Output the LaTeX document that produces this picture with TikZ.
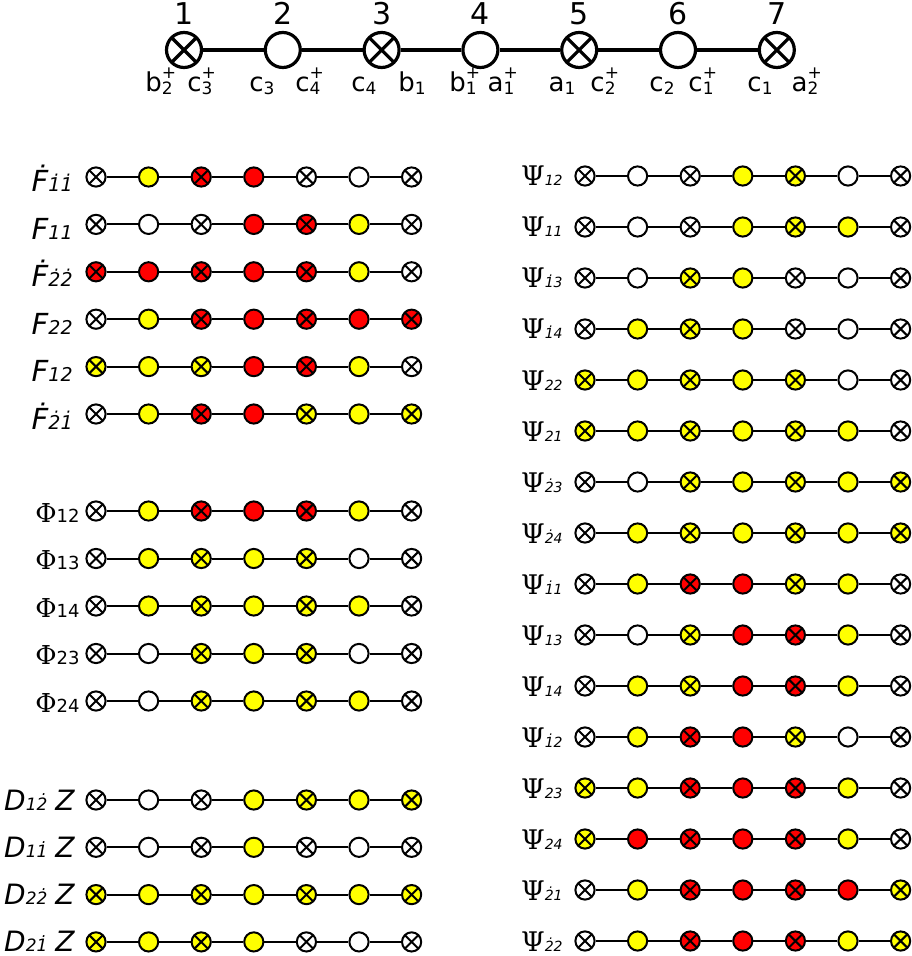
\documentclass[tikz,border=0pt]{standalone}
\usepackage{fontspec}
\setmainfont{DejaVu Sans}
\newfontfamily\grk{DejaVu Serif}
\usetikzlibrary{positioning}
\definecolor{qw}{RGB}{255,255,255}
\definecolor{qy}{RGB}{255,255,0}
\definecolor{qr}{RGB}{255,0,0}

% small lower / upper indices
\newcommand\op[3]{#1\rlap{\raisebox{6.5pt}{\fontsize{8.5}{9}\selectfont #3}}\raisebox{-1.5pt}{\fontsize{8.5}{9}\selectfont #2}}
\newcommand\fsub[1]{{\fontsize{9.5}{10}\selectfont\itshape #1}}
\newcommand\psisub[1]{{\fontsize{7}{8}\selectfont\itshape #1}}
\newcommand\phisub[1]{{\fontsize{9}{9}\selectfont #1}}
\newcommand\dsub[1]{{\fontsize{8.5}{9}\selectfont #1}}
\newcommand\bigpsi{{\grk\fontsize{13.5}{15}\selectfont Ψ}}
\newcommand\bigphi{{\grk\fontsize{13}{15}\selectfont Φ}}

\tikzset{
  xed/.style={path picture={\draw[line width=#1]
      (path picture bounding box.south west) -- (path picture bounding box.north east)
      (path picture bounding box.north west) -- (path picture bounding box.south east);}},
  site/.style={circle, draw, line width=1pt, minimum size=9.6pt, inner sep=0pt},
  k1/.style={xed=1pt},
  k0/.style={},
  bond/.style={line width=1pt},
  bigsite/.style={circle, draw, line width=1.6pt, minimum size=17.5pt, inner sep=0pt, fill=white},
  flab/.style={anchor=base east, inner sep=0pt, font=\fontsize{14.5}{16}\selectfont\itshape},
  psilab/.style={anchor=base east, inner sep=0pt, font=\fontsize{10}{12}\selectfont},
  philab/.style={anchor=base east, inner sep=0pt, font=\fontsize{10}{12}\selectfont},
  dlab/.style={anchor=base east, inner sep=0pt, font=\fontsize{14}{16}\selectfont\itshape},
}

\begin{document}
\begin{tikzpicture}[x=0.5pt, y=-0.5pt]
  \useasboundingbox (0,0) rectangle (911,956);

  % the chain with its numbers and operators
  \foreach \lft/\rgt/\xa/\xb [count=\i] in {
      {\op{b}{2}{+}}/{\op{c}{3}{+}}/159/200,
      {\op{c}{3}{}}/{\op{c}{4}{+}}/262/308,
      {\op{c}{4}{}}/{\op{b}{1}{}}/364/412,
      {\op{b}{1}{+}}/{\op{a}{1}{+}}/463/501,
      {\op{a}{1}{}}/{\op{c}{2}{+}}/562/603,
      {\op{c}{2}{}}/{\op{c}{1}{+}}/662/701,
      {\op{c}{1}{}}/{\op{a}{2}{+}}/760/805}{
    \pgfmathsetmacro\m{int(mod(\i,2))}
    \ifnum\m=1
      \node[bigsite, xed=1.6pt] (t\i) at ({184+98.8*(\i-1)},50) {};
    \else
      \node[bigsite] (t\i) at ({184+98.8*(\i-1)},50) {};
    \fi
    \node[above=3pt of t\i, inner sep=0pt, font=\fontsize{15}{15}\selectfont] (n\i) {\i};
    \node[anchor=base, inner sep=0pt, font=\fontsize{13}{13}\selectfont] (la\i) at (\xa,92) {\lft};
    \node[anchor=base, inner sep=0pt, font=\fontsize{13}{13}\selectfont] (lb\i) at (\xb,92) {\rgt};
  }
  \foreach \i [remember=\i as \j (initially 1)] in {2,...,7}
    \draw[line width=1.6pt] (t\j) -- (t\i);

  % F block
  \foreach \lab/\cols [count=\r] in {
      {\.{F}\fsub{\.{1}\.{1}}}/{w,y,r,r,w,w,w},
      {F\fsub{11}}/{w,w,w,r,r,y,w},
      {\.{F}\fsub{\.{2}\.{2}}}/{r,r,r,r,r,y,w},
      {F\fsub{22}}/{w,y,r,r,r,r,r},
      {F\fsub{12}}/{y,y,y,r,r,y,w},
      {\.{F}\fsub{\.{2}\.{1}}}/{w,y,r,r,y,y,y}}{
    \pgfmathsetmacro\yy{177+47.4*(\r-1)}
    \node[flab] (fl\r) at (73,\yy+15) {\lab};
    \foreach \c [count=\i, evaluate=\i as \m using {int(mod(\i,2))}] in \cols
      \node[site, k\m, fill=q\c] (f\r-\i) at ({96+52.6*(\i-1)},\yy) {};
    \foreach \i [remember=\i as \j (initially 1)] in {2,...,7}
      \draw[bond] (f\r-\j) -- (f\r-\i);
  }

  % Phi block
  \foreach \lab/\cols [count=\r] in {
      {\bigphi\phisub{12}}/{w,y,r,r,r,y,w},
      {\bigphi\phisub{13}}/{w,y,y,y,y,w,w},
      {\bigphi\phisub{14}}/{w,y,y,y,y,y,w},
      {\bigphi\phisub{23}}/{w,w,y,y,y,w,w},
      {\bigphi\phisub{24}}/{w,w,y,y,y,y,w}}{
    \pgfmathsetmacro\yy{511+47.5*(\r-1)}
    \node[philab] (hl\r) at (80,\yy+11) {\lab};
    \foreach \c [count=\i, evaluate=\i as \m using {int(mod(\i,2))}] in \cols
      \node[site, k\m, fill=q\c] (h\r-\i) at ({96+52.6*(\i-1)},\yy) {};
    \foreach \i [remember=\i as \j (initially 1)] in {2,...,7}
      \draw[bond] (h\r-\j) -- (h\r-\i);
  }

  % D Z block
  \foreach \lab/\cols [count=\r] in {
      {D\dsub{1\.{2}}\hspace{4pt}Z}/{w,w,w,y,y,y,y},
      {D\dsub{1\.{1}}\hspace{4pt}Z}/{w,w,w,y,w,w,w},
      {D\dsub{2\.{2}}\hspace{4pt}Z}/{y,y,y,y,y,y,y},
      {D\dsub{2\.{1}}\hspace{4pt}Z}/{y,y,y,y,w,w,w}}{
    \pgfmathsetmacro\yy{800+47.3*(\r-1)}
    \node[dlab] (dl\r) at (75,\yy+10) {\lab};
    \foreach \c [count=\i, evaluate=\i as \m using {int(mod(\i,2))}] in \cols
      \node[site, k\m, fill=q\c] (d\r-\i) at ({96+52.6*(\i-1)},\yy) {};
    \foreach \i [remember=\i as \j (initially 1)] in {2,...,7}
      \draw[bond] (d\r-\j) -- (d\r-\i);
  }

  % Psi block
  \foreach \lab/\cols [count=\r] in {
      {12}/{w,w,w,y,y,w,w},
      {11}/{w,w,w,y,y,y,w},
      {\.{1}3}/{w,w,y,y,w,w,w},
      {\.{1}4}/{w,y,y,y,w,w,w},
      {22}/{y,y,y,y,y,w,w},
      {21}/{y,y,y,y,y,y,w},
      {\.{2}3}/{w,w,y,y,y,y,y},
      {\.{2}4}/{w,y,y,y,y,y,y},
      {\.{1}1}/{w,y,r,r,y,y,w},
      {13}/{w,w,y,r,r,y,w},
      {14}/{w,y,y,r,r,y,w},
      {\.{1}2}/{w,y,r,r,y,w,w},
      {23}/{y,y,r,r,r,y,w},
      {24}/{y,r,r,r,r,y,w},
      {\.{2}1}/{w,y,r,r,r,r,y},
      {\.{2}2}/{w,y,r,r,r,y,y}}{
    \pgfmathsetmacro\yy{176+51*(\r-1)}
    \node[psilab] (pl\r) at (563,\yy+10) {\bigpsi\psisub{\lab}};
    \foreach \c [count=\i, evaluate=\i as \m using {int(mod(\i,2))}] in \cols
      \node[site, k\m, fill=q\c] (p\r-\i) at ({585+52.6*(\i-1)},\yy) {};
    \foreach \i [remember=\i as \j (initially 1)] in {2,...,7}
      \draw[bond] (p\r-\j) -- (p\r-\i);
  }
\end{tikzpicture}
\end{document}
